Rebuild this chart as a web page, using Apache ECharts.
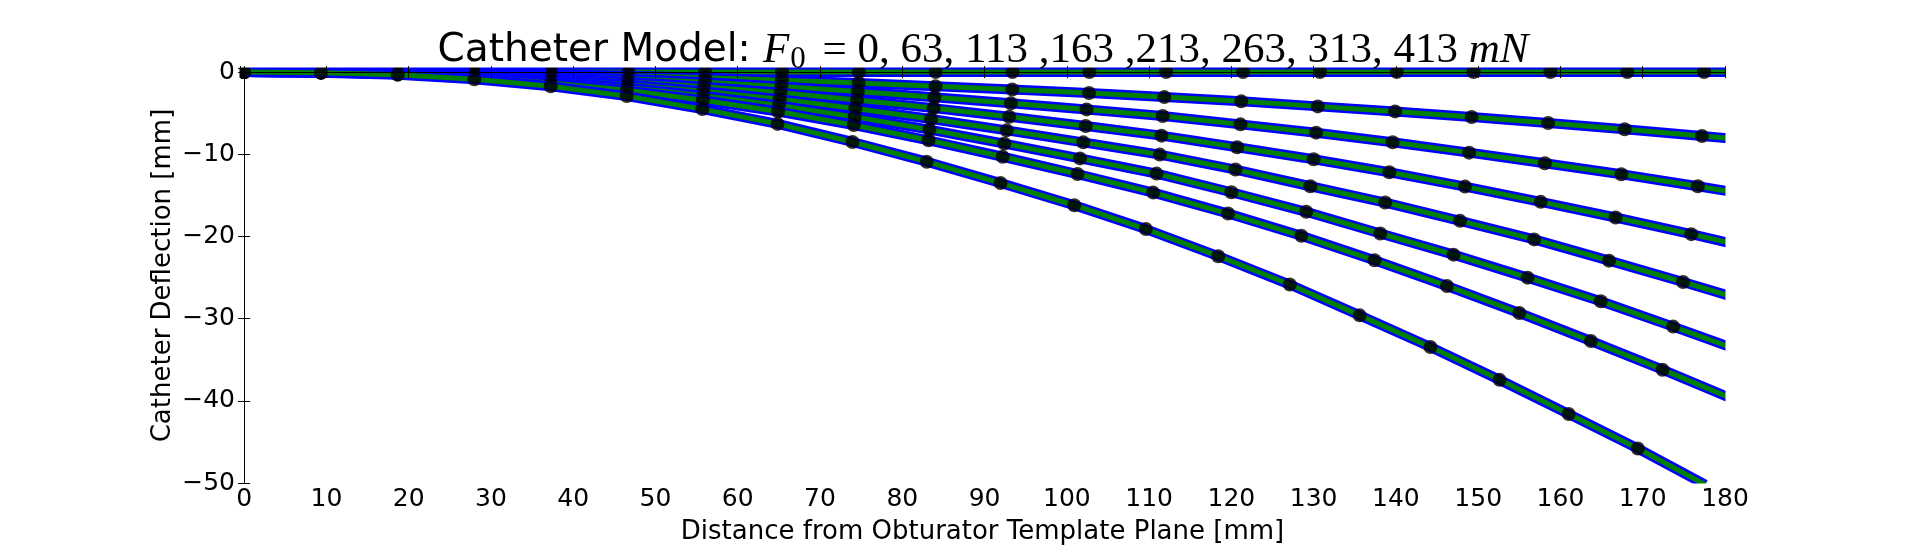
<!DOCTYPE html>
<html><head><meta charset="utf-8">
<script src="https://cdn.jsdelivr.net/npm/echarts@6/dist/echarts.min.js"></script>
<style>html,body{margin:0;padding:0;background:#fff}#c{width:1917px;height:551px}</style>
</head><body><div id="c"></div>
<script>
// Forces (mN) for each curve
const forces = [0, 63, 113, 163, 213, 263, 313, 413];

// Marker positions (x, mm) and deflections (y, mm)
const xF0   = [0, 9.34, 18.68, 28.02, 37.36, 46.7, 56.04, 65.38, 74.72, 84.06, 93.4, 102.74, 112.08, 121.42, 130.76, 140.1, 149.44, 158.78, 168.12, 177.46, 186.8];
const yF0   = [0, 0, 0, 0, 0, 0, 0, 0, 0, 0, 0, 0, 0, 0, 0, 0, 0, 0, 0, 0, 0];
const xF63  = [0, 9.34, 18.68, 28.02, 37.36, 46.7, 56.03, 65.37, 74.7, 84.04, 93.37, 102.7, 111.85, 121.2, 130.5, 139.9, 149.2, 158.5, 167.8, 177.2, 186.5];
const yF63  = [0, -0.01, -0.05, -0.13, -0.26, -0.45, -0.69, -0.98, -1.32, -1.71, -2.12, -2.55, -3.04, -3.56, -4.17, -4.78, -5.47, -6.19, -6.96, -7.77, -8.6];
const xF113 = [0, 9.34, 18.68, 28.01, 37.35, 46.68, 56.0, 65.3, 74.6, 83.9, 93.2, 102.4, 111.65, 121.1, 130.3, 139.6, 148.9, 158.1, 167.4, 176.7, 185.9];
const yF113 = [0, -0.02, -0.09, -0.24, -0.47, -0.81, -1.24, -1.75, -2.37, -3.06, -3.79, -4.54, -5.34, -6.36, -7.37, -8.54, -9.8, -11.09, -12.43, -13.89, -15.4];
const xF163 = [0, 9.34, 18.67, 28.0, 37.3, 46.6, 55.9, 65.2, 74.5, 83.8, 93.0, 102.3, 111.5, 120.7, 130.0, 139.2, 148.4, 157.6, 166.7, 175.9, 185.0];
const yF163 = [0, -0.03, -0.13, -0.35, -0.68, -1.16, -1.78, -2.52, -3.4, -4.38, -5.44, -6.55, -7.73, -9.15, -10.61, -12.19, -13.93, -15.79, -17.69, -19.72, -21.8];
const xF213 = [0, 9.34, 18.67, 27.98, 37.3, 46.6, 55.8, 65.1, 74.3, 83.5, 92.7, 102.0, 111.3, 120.5, 129.6, 138.7, 147.8, 156.8, 165.9, 174.9, 183.8];
const yF213 = [0, -0.04, -0.17, -0.45, -0.89, -1.51, -2.33, -3.3, -4.42, -5.7, -7.09, -8.55, -10.04, -11.86, -13.89, -15.87, -18.1, -20.36, -22.94, -25.54, -28.2];
const xF263 = [0, 9.34, 18.67, 27.98, 37.28, 46.55, 55.8, 65.0, 74.2, 83.3, 92.4, 101.6, 110.9, 120.0, 129.1, 138.1, 147.0, 156.0, 164.9, 173.7, 182.4];
const yF263 = [0, -0.05, -0.21, -0.56, -1.1, -1.86, -2.88, -4.06, -5.45, -7.0, -8.7, -10.5, -12.35, -14.62, -17.0, -19.64, -22.21, -25.01, -27.89, -30.97, -34.1];
const xF313 = [0, 9.34, 18.67, 27.97, 37.27, 46.5, 55.75, 64.9, 74.1, 83.2, 92.2, 101.3, 110.5, 119.6, 128.5, 137.4, 146.2, 155.0, 163.7, 172.4, 181.0];
const yF313 = [0, -0.06, -0.25, -0.67, -1.31, -2.22, -3.43, -4.8, -6.45, -8.3, -10.3, -12.4, -14.66, -17.21, -19.92, -22.9, -26.02, -29.31, -32.72, -36.21, -39.8];
const xF413 = [0, 9.34, 18.67, 27.98, 37.27, 46.5, 55.7, 64.84, 73.94, 82.97, 91.94, 100.9, 109.6, 118.4, 127.1, 135.6, 144.2, 152.6, 161.0, 169.4, 177.6];
const yF413 = [0, -0.07, -0.33, -0.88, -1.72, -2.92, -4.5, -6.3, -8.5, -10.9, -13.5, -16.2, -19.1, -22.4, -25.85, -29.6, -33.45, -37.45, -41.6, -45.8, -50.2];

// Axis ranges / ticks
const xMin = -0.5, xMax = 180, xSplits = 18;
const yMin = -50, yMax = 0.5, yTickStep = 10;

// Texts
const titleMain = 'Catheter Model: ';
const titleForces = ' = 0, 63, 113 ,163 ,213, 263, 313, 413 ';
const xLabel = 'Distance from Obturator Template Plane [mm]';
const yLabel = 'Catheter Deflection [mm]';

const curves = [[xF0, yF0], [xF63, yF63], [xF113, yF113], [xF163, yF163], [xF213, yF213], [xF263, yF263], [xF313, yF313], [xF413, yF413]];

const series = [];
curves.forEach(function (c, k) {
  const data = c[0].map(function (x, i) { return [x, c[1][i]]; });
  series.push({ type: 'line', name: forces[k] + ' mN', data: data, symbol: 'none', silent: true,
    lineStyle: { color: '#0000ff', width: 10, join: 'round' }, z: 10 + 3 * k, animation: false });
  series.push({ type: 'line', name: forces[k] + ' mN', data: data, symbol: 'none', silent: true,
    lineStyle: { color: '#008000', width: 5, join: 'round' }, z: 11 + 3 * k, animation: false });
  series.push({ type: 'scatter', name: forces[k] + ' mN', data: data, symbol: 'circle', symbolSize: 14, silent: true,
    itemStyle: { color: '#000000' }, z: 12 + 3 * k, animation: false });
});

const font = 'DejaVu Sans';
const axisLineStyle = { show: true, lineStyle: { color: '#000', width: 1 } };
const tickStyle = { show: true, inside: true, length: 6, lineStyle: { color: '#000', width: 1 } };

function xFmt(v) {
  if (Math.abs(v % 10) > 1e-9) return '';
  return String(v);
}
function yFmt(v) {
  if (Math.abs(v % yTickStep) > 1e-9) return '';
  if (v === 0) return '0';
  return (v < 0 ? '\u2212' : '') + Math.abs(v);
}

const chart = echarts.init(document.getElementById('c'), null, { renderer: 'canvas' });
const W = 1917, H = 551, gl = 240, gr = 192, gt = 68, gb = 68;
const mask = { fill: '#ffffff' };
chart.setOption({
  animation: false,
  backgroundColor: '#ffffff',
  grid: { left: gl, right: gr, top: gt, bottom: gb, containLabel: false },
  xAxis: [
    { type: 'value', min: xMin, max: xMax, splitNumber: xSplits, position: 'bottom', z: 50,
      axisLine: axisLineStyle, axisTick: tickStyle, splitLine: { show: false },
      axisLabel: { fontFamily: font, fontSize: 25, color: '#000', margin: 4, formatter: xFmt },
      name: xLabel, nameLocation: 'middle', nameGap: 36,
      nameTextStyle: { fontFamily: font, fontSize: 26, color: '#000' } },
    { type: 'value', min: xMin, max: xMax, splitNumber: xSplits, position: 'top', z: 50,
      axisLine: axisLineStyle, axisTick: tickStyle, splitLine: { show: false },
      axisLabel: { show: false } }
  ],
  yAxis: [
    { type: 'value', min: yMin, max: yMax, interval: yTickStep, position: 'left', z: 50,
      axisLine: axisLineStyle, axisTick: tickStyle, splitLine: { show: false },
      axisLabel: { fontFamily: font, fontSize: 25, color: '#000', margin: 5, formatter: yFmt },
      name: yLabel, nameLocation: 'middle', nameGap: 64, nameMoveOverlap: false,
      nameTextStyle: { fontFamily: font, fontSize: 26, color: '#000' } },
    { type: 'value', min: yMin, max: yMax, interval: yTickStep, position: 'right', z: 50,
      axisLine: axisLineStyle, axisTick: tickStyle, splitLine: { show: false },
      axisLabel: { show: false } }
  ],
  graphic: [
    // white masks outside the plot frame (clip like the axes box)
    { type: 'rect', z: 40, silent: true, shape: { x: W - gr + 0.5, y: 0, width: gr, height: H }, style: mask },
    { type: 'rect', z: 40, silent: true, shape: { x: 0, y: H - gb + 0.5, width: W, height: gb }, style: mask },
    { type: 'rect', z: 40, silent: true, shape: { x: 0, y: 0, width: gl - 0.5, height: H }, style: mask },
    { type: 'rect', z: 40, silent: true, shape: { x: 0, y: 0, width: W, height: gt - 0.5 }, style: mask },
    {
      type: 'text', x: 983, y: 75, z: 100, silent: true,
      style: {
        text: '{a|' + titleMain + '}{f|F}{s|0}{m|' + titleForces + '}{f|mN}',
        align: 'center', verticalAlign: 'bottom',
        rich: {
          a: { fontFamily: font, fontSize: 39, lineHeight: 48, fill: '#000', color: '#000' },
          f: { fontFamily: 'Liberation Serif', fontStyle: 'italic', fontSize: 43, lineHeight: 48, fill: '#000', color: '#000' },
          s: { fontFamily: 'Liberation Serif', fontSize: 31, lineHeight: 28, verticalAlign: 'bottom', padding: [0, 6, 0, 1], fill: '#000', color: '#000' },
          m: { fontFamily: 'Liberation Serif', fontSize: 43, lineHeight: 48, fill: '#000', color: '#000' }
        }
      }
    }
  ],
  series: series
});
</script>
</body></html>
